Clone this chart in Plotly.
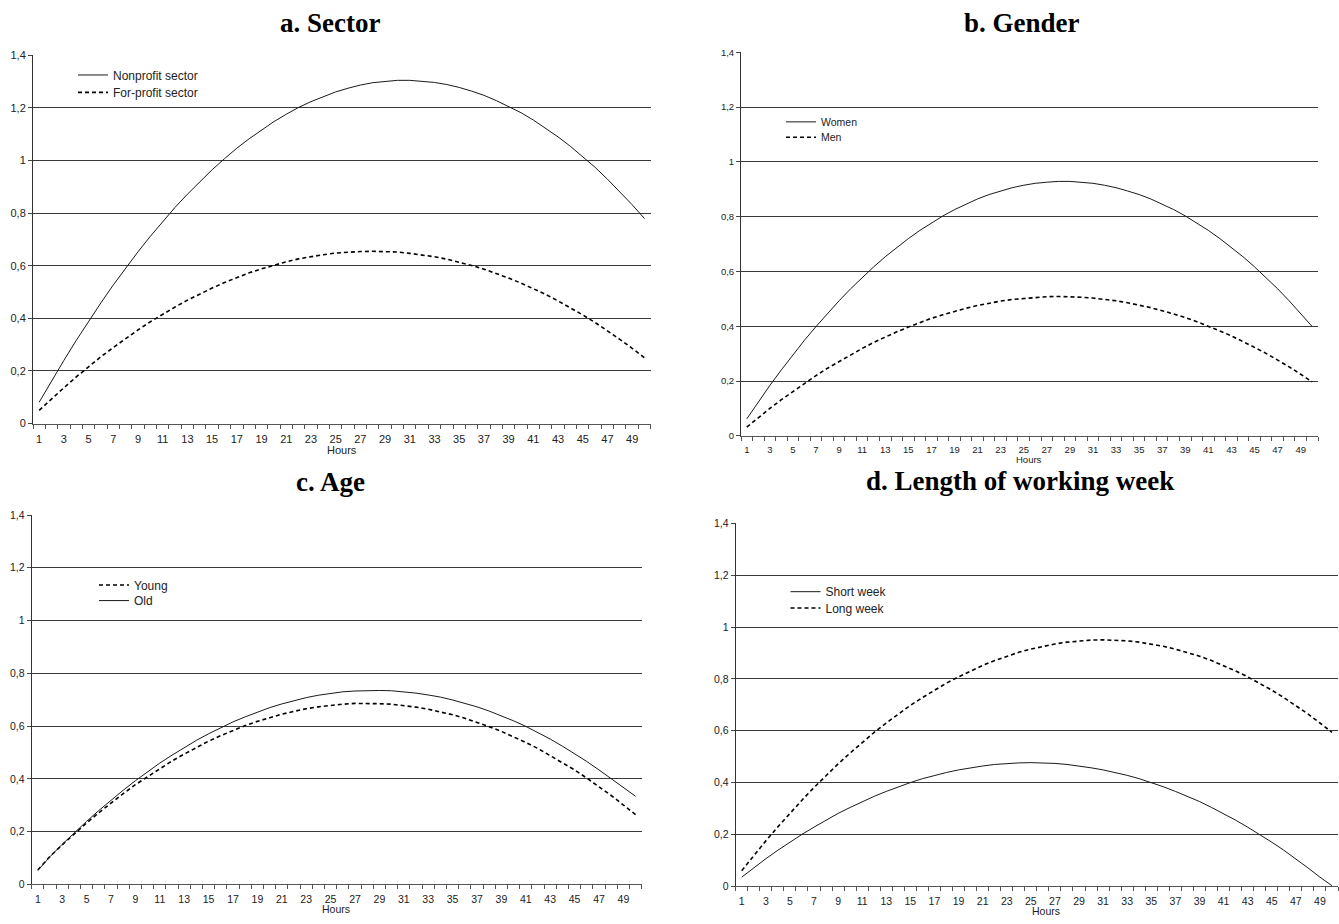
import plotly.graph_objects as go

hours = list(range(1, 51))

nonprofit = [0.081, 0.162, 0.240, 0.316, 0.389, 0.459, 0.527, 0.591, 0.653, 0.712,
             0.768, 0.822, 0.872, 0.920, 0.965, 1.007, 1.047, 1.083, 1.117, 1.148,
             1.176, 1.202, 1.224, 1.244, 1.261, 1.275, 1.287, 1.296, 1.301, 1.305,
             1.305, 1.302, 1.297, 1.289, 1.278, 1.264, 1.248, 1.228, 1.206, 1.182,
             1.154, 1.123, 1.090, 1.054, 1.015, 0.974, 0.929, 0.882, 0.832, 0.779]
forprofit = [0.050, 0.094, 0.136, 0.177, 0.216, 0.254, 0.289, 0.323, 0.356, 0.387,
             0.416, 0.443, 0.469, 0.493, 0.515, 0.536, 0.555, 0.573, 0.588, 0.602,
             0.615, 0.626, 0.635, 0.642, 0.648, 0.652, 0.654, 0.655, 0.654, 0.652,
             0.647, 0.641, 0.634, 0.625, 0.614, 0.601, 0.587, 0.571, 0.553, 0.534,
             0.513, 0.491, 0.466, 0.440, 0.413, 0.384, 0.353, 0.320, 0.286, 0.250]
women = [0.062, 0.124, 0.184, 0.241, 0.296, 0.349, 0.399, 0.447, 0.493, 0.537,
         0.578, 0.617, 0.654, 0.688, 0.720, 0.750, 0.777, 0.803, 0.826, 0.846,
         0.865, 0.881, 0.894, 0.906, 0.915, 0.922, 0.926, 0.929, 0.929, 0.926,
         0.922, 0.915, 0.906, 0.894, 0.881, 0.865, 0.846, 0.826, 0.803, 0.777,
         0.750, 0.720, 0.688, 0.654, 0.617, 0.578, 0.537, 0.493, 0.447, 0.399]
men = [0.032, 0.067, 0.100, 0.132, 0.162, 0.192, 0.220, 0.247, 0.272, 0.296,
       0.319, 0.341, 0.361, 0.380, 0.397, 0.414, 0.429, 0.442, 0.455, 0.466,
       0.476, 0.485, 0.492, 0.498, 0.502, 0.506, 0.508, 0.509, 0.508, 0.506,
       0.503, 0.499, 0.493, 0.486, 0.478, 0.468, 0.457, 0.445, 0.432, 0.417,
       0.401, 0.383, 0.365, 0.345, 0.323, 0.301, 0.277, 0.252, 0.225, 0.197]
young = [0.055, 0.106, 0.150, 0.192, 0.233, 0.272, 0.309, 0.344, 0.378, 0.409,
         0.439, 0.468, 0.494, 0.519, 0.543, 0.564, 0.584, 0.602, 0.618, 0.632,
         0.645, 0.656, 0.666, 0.673, 0.679, 0.683, 0.686, 0.686, 0.685, 0.683,
         0.678, 0.672, 0.664, 0.654, 0.643, 0.630, 0.615, 0.598, 0.580, 0.560,
         0.538, 0.515, 0.489, 0.462, 0.434, 0.403, 0.371, 0.337, 0.301, 0.264]
old = [0.053, 0.105, 0.152, 0.196, 0.239, 0.280, 0.320, 0.357, 0.393, 0.427,
       0.460, 0.490, 0.519, 0.546, 0.571, 0.594, 0.616, 0.635, 0.653, 0.670,
       0.684, 0.697, 0.708, 0.717, 0.724, 0.730, 0.733, 0.735, 0.735, 0.734,
       0.730, 0.725, 0.718, 0.710, 0.699, 0.687, 0.673, 0.657, 0.639, 0.620,
       0.599, 0.576, 0.551, 0.524, 0.496, 0.466, 0.434, 0.401, 0.368, 0.334]
short_week = [0.035, 0.071, 0.106, 0.139, 0.170, 0.200, 0.228, 0.255, 0.281, 0.304,
              0.327, 0.347, 0.366, 0.384, 0.400, 0.415, 0.428, 0.439, 0.449, 0.457,
              0.464, 0.470, 0.474, 0.476, 0.477, 0.476, 0.474, 0.470, 0.464, 0.457,
              0.449, 0.439, 0.428, 0.415, 0.400, 0.384, 0.366, 0.347, 0.327, 0.304,
              0.281, 0.255, 0.228, 0.200, 0.170, 0.139, 0.106, 0.071, 0.035, 0.002]
long_week = [0.060, 0.118, 0.175, 0.229, 0.282, 0.332, 0.381, 0.427, 0.472, 0.514,
             0.555, 0.594, 0.630, 0.665, 0.698, 0.728, 0.757, 0.784, 0.808, 0.831,
             0.852, 0.871, 0.888, 0.903, 0.915, 0.926, 0.935, 0.942, 0.947, 0.950,
             0.951, 0.950, 0.947, 0.942, 0.935, 0.926, 0.915, 0.903, 0.888, 0.871,
             0.852, 0.831, 0.808, 0.784, 0.757, 0.728, 0.698, 0.665, 0.630, 0.594]

x_tick_vals = list(range(1, 50, 2))
y_tick_vals = [0, 0.2, 0.4, 0.6, 0.8, 1.0, 1.2, 1.4]
titles = ["a. Sector", "b. Gender", "c. Age", "d. Length of working week"]
x_title = "Hours"

W, H = 1339, 924

def px(v):
    return v / W

def py(v):
    return 1 - v / H

# panel boxes in pixels: left, right, top(1.4), bottom(0)
boxes = [
    (33, 650.7, 50, 423),
    (741, 1318, 47, 435.5),
    (31.7, 641.7, 515.7, 890),
    (735.7, 1338, 524.3, 891.8),
]
tick_sizes = [11, 9.5, 10.5, 10.5]

SOLID = dict(color="#1a1a1a", width=1)
DASHED = dict(color="#000000", width=1.6, dash="4px,3px")

panels = [
    [("Nonprofit sector", nonprofit, SOLID), ("For-profit sector", forprofit, DASHED)],
    [("Women", women, SOLID), ("Men", men, DASHED)],
    [("Young", young, DASHED), ("Old", old, SOLID)],
    [("Short week", short_week, SOLID), ("Long week", long_week, DASHED)],
]
# legend entry positions: (line start x, row centre y per entry, font size, offset)
legend_pos = [
    (79, (75.7, 93.3), 12, 20.5),
    (787, (121.7, 137.3), 10.5, 19),
    (100, (585, 600.7), 12, 13),
    (791.5, (591.7, 608.3), 12, 13),
]
title_pos = [(330, 17), (1022, 17), (330, 482), (1020, 481)]
hours_pos = [(342, 450), (1029, 459), (336, 915), (1046, 917)]

fig = go.Figure()
layout = dict(
    width=W, height=H, margin=dict(l=0, r=0, t=0, b=0),
    paper_bgcolor="white", plot_bgcolor="white",
    separators=", ",
    annotations=[],
)

leg_idx = 0
for i, (series, box) in enumerate(zip(panels, boxes)):
    n = i + 1
    xa = "x" if n == 1 else f"x{n}"
    ya = "y" if n == 1 else f"y{n}"
    lx, lys, lfs, loff = legend_pos[i]
    for j, (name, vals, style) in enumerate(series):
        leg_idx += 1
        lg = "legend" if leg_idx == 1 else f"legend{leg_idx}"
        fig.add_trace(go.Scatter(
            x=hours, y=vals, mode="lines", name=name, line=style,
            xaxis=xa, yaxis=ya, legend=lg, showlegend=True,
        ))
        layout[lg] = dict(
            x=px(lx - 6), y=py(lys[j] - loff), xanchor="left", yanchor="top",
            bgcolor="rgba(0,0,0,0)", borderwidth=0,
            font=dict(family="Liberation Sans, Arial", size=lfs, color="#222"),
        )
    l, r, t, b = box
    fs = tick_sizes[i]
    layout[f"xaxis{'' if n == 1 else n}"] = dict(
        domain=[px(l), px(r)], range=[0.5, 50.5], anchor=ya,
        tickmode="array", tickvals=x_tick_vals, ticks="outside", ticklen=5,
        tickcolor="rgba(0,0,0,0)",
        tickfont=dict(family="Liberation Sans, Arial", size=fs, color="#222"),
        showgrid=False, zeroline=False, showline=True, linecolor="#555", linewidth=1,
        minor=dict(tickmode="linear", tick0=0.5, dtick=1, ticks="outside",
                   ticklen=4, tickcolor="#555", tickwidth=1, showgrid=False),
        fixedrange=True,
    )
    layout[f"yaxis{'' if n == 1 else n}"] = dict(
        domain=[py(b), py(t)], range=[0, 1.4], anchor=xa,
        tickmode="array", tickvals=y_tick_vals, ticks="outside", ticklen=4,
        tickcolor="#444",
        tickfont=dict(family="Liberation Sans, Arial", size=fs, color="#222"),
        showgrid=True, gridcolor="#3a3a3a", gridwidth=1,
        zeroline=False, showline=True, linecolor="#333", linewidth=1,
        fixedrange=True,
    )
    tx, ty = title_pos[i]
    layout["annotations"].append(dict(
        text=f"<b>{titles[i]}</b>", x=px(tx), y=py(ty), xref="paper", yref="paper",
        xanchor="center", yanchor="middle", showarrow=False,
        font=dict(family="Liberation Serif, Times New Roman", size=27, color="#000"),
    ))
    hx, hy = hours_pos[i]
    layout["annotations"].append(dict(
        text=x_title, x=px(hx), y=py(hy), xref="paper", yref="paper",
        xanchor="center", yanchor="middle", showarrow=False,
        font=dict(family="Liberation Sans, Arial", size=fs, color="#222"),
    ))

fig.update_layout(**layout)
fig.write_html("out.html")
